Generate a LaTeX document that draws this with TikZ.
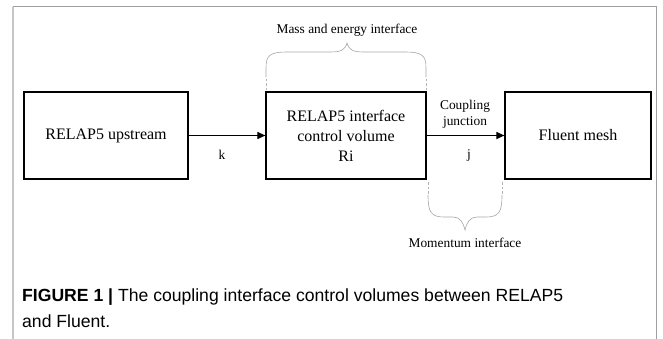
\documentclass[tikz,border=0pt]{standalone}
\usepackage{fontspec}
\setmainfont{Liberation Serif}
\newfontfamily\capfont{Liberation Sans}
\usetikzlibrary{arrows.meta}
\tikzset{
  blk/.style={draw=black, line width=1.2pt, inner sep=0pt, align=center,
    font=\fontsize{16}{20}\selectfont},
  small/.style={inner sep=0pt, align=center, font=\fontsize{13.4}{16}\selectfont},
  arr/.style={line width=1.1pt, -{Triangle[length=8pt,width=7pt]}},
  brace/.style={draw=gray!70, line width=0.6pt},
  bdash/.style={draw=gray!60, line width=0.8pt, dash pattern=on 2.5pt off 2pt},
  captext/.style={inner sep=0pt, anchor=base west, font=\capfont\fontsize{17.6}{22}\selectfont}
}
\begin{document}
\begin{tikzpicture}[x=1pt,y=-1pt]
\useasboundingbox (0,0) rectangle (663,338);
% frame
\draw[gray!45, line width=2pt] (12.5,6.5) -- (12.5,345);
\draw[gray!75, line width=1pt] (12.5,6.5) -- (656,6.5) -- (656,345);
% boxes
\node[blk, minimum width=164pt, minimum height=87pt] (up) at (106,135.5) {RELAP5 upstream};
\node[blk, minimum width=160pt, minimum height=87pt] (mid) at (346,135.5) {RELAP5 interface\\control volume\\Ri};
\node[blk, minimum width=146pt, minimum height=87pt] (fl) at (578,135.5) {Fluent mesh};
% arrows
\draw[arr] (up.east) -- (mid.west);
\draw[arr] (mid.east) -- (fl.west);
% labels
\node[small] (k) at (222,155) {k};
\node[small] (j) at (469,155) {j};
\node[small] (cj) at (465,114) {Coupling\\junction};
\node[small] (mei) at (347,30) {Mass and energy interface};
\node[small] (mom) at (465,243) {Momentum interface};
% top brace
\coordinate (t1) at (266,90);
\coordinate (t2) at (266,77);
\coordinate (t3) at (426,77);
\coordinate (t4) at (426,90);
\draw[bdash] (t1) -- (t2);
\draw[bdash] (t4) -- (t3);
\draw[brace] (t2) -- (266,68) .. controls (266,55) and (270,52) .. (288,52) -- (330,52)
  .. controls (341,52) and (345,50) .. (347,43)
  .. controls (349,50) and (353,52) .. (364,52) -- (404,52)
  .. controls (422,52) and (426,55) .. (426,68) -- (t3);
% bottom brace
\coordinate (b1) at (428,182);
\coordinate (b2) at (428,195);
\coordinate (b3) at (502,195);
\coordinate (b4) at (502,182);
\draw[bdash] (b1) -- (b2);
\draw[bdash] (b4) -- (b3);
\draw[brace] (b2) .. controls (428,212) and (431,217) .. (444,217) -- (453,217)
  .. controls (460,217) and (463,222) .. (465,230)
  .. controls (467,222) and (470,217) .. (477,217) -- (486,217)
  .. controls (499,217) and (502,212) .. (b3);
% caption
\node[captext] (c1) at (22,301) {\textbf{FIGURE 1 |} The coupling interface control volumes between RELAP5};
\node[captext] (c2) at (22,327) {and Fluent.};
\end{tikzpicture}
\end{document}
